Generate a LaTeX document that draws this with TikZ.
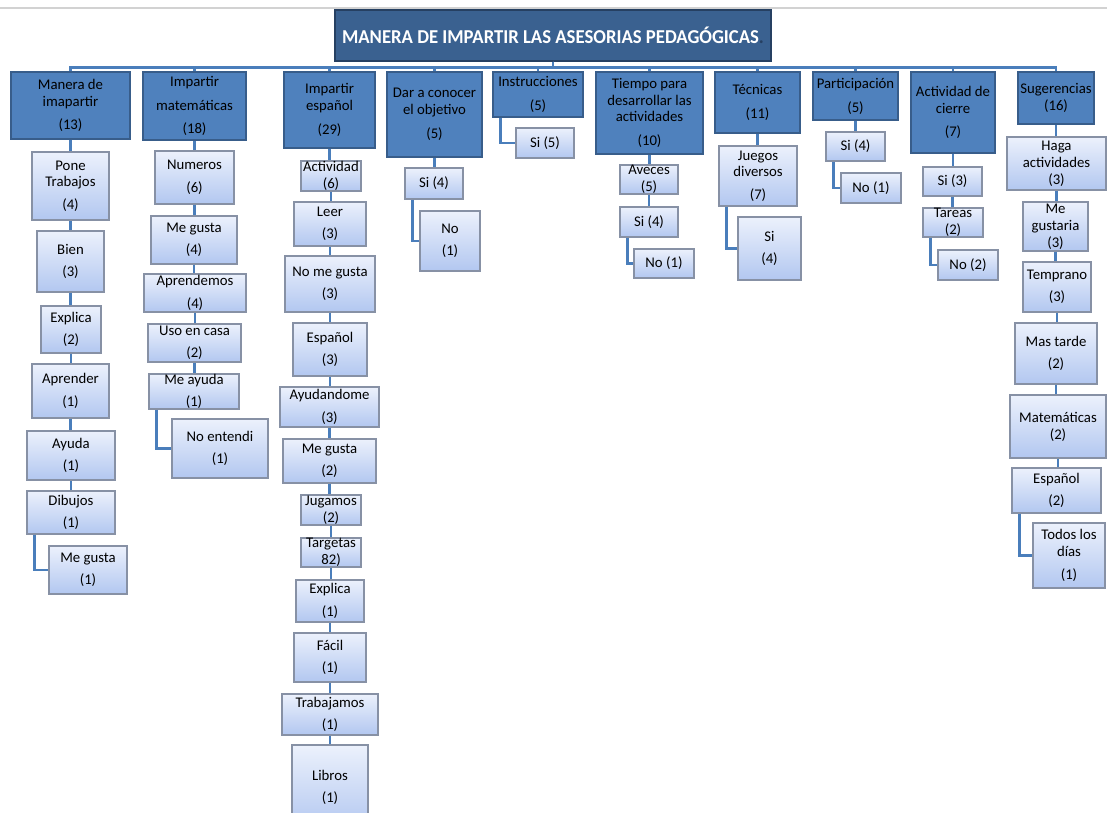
\documentclass[tikz,border=0pt]{standalone}
\usepackage{fontspec}
\setmainfont{Carlito}
\newfontfamily\titulofont[FakeStretch=0.95]{Carlito}
\usetikzlibrary{shadows}
\definecolor{linea}{RGB}{74,126,187}
\definecolor{fondoRaiz}{RGB}{58,97,144}
\definecolor{bordeRaiz}{RGB}{38,64,98}
\definecolor{fondoTema}{RGB}{79,129,189}
\definecolor{bordeTema}{RGB}{56,93,138}
\definecolor{hojaArriba}{RGB}{236,241,252}
\definecolor{hojaAbajo}{RGB}{178,199,240}
\definecolor{bordeHoja}{RGB}{135,145,165}
\begin{document}
\begin{tikzpicture}[x=0.025cm, y=-0.025cm,
    raiz/.style={draw=bordeRaiz, fill=fondoRaiz, line width=1pt, text=white,
      font=\titulofont\fontsize{14}{16}\selectfont\bfseries, inner sep=0pt},
    tema/.style={draw=bordeTema, fill=fondoTema, line width=0.9pt, align=center,
      font=\fontsize{10.5}{12}\selectfont, inner sep=0pt,
      drop shadow={shadow xshift=0.8pt, shadow yshift=-0.8pt, opacity=0.25}},
    hoja/.style={draw=bordeHoja, top color=hojaArriba, bottom color=hojaAbajo,
      line width=0.8pt, align=center, font=\fontsize{10.5}{12}\selectfont, inner sep=0pt,
      drop shadow={shadow xshift=0.8pt, shadow yshift=-0.8pt, opacity=0.25}},
    enlace/.style={draw=linea, line width=2.1pt}]%{{{
\clip  (0,0) rectangle (1107,813);
%
% Borde de la hoja
\draw [gray!35, line width=1.2pt] (0,8) to (1107,8);
%
% Titulo
\node [raiz, minimum width={436*0.025cm}, minimum height={51*0.025cm}] (raiz) at (553,35.5)
      {MANERA DE IMPARTIR LAS ASESORIAS PEDAGÓGICAS\textcolor{bordeRaiz}{.}};
%
% Temas
\foreach \n/\xa/\ya/\xb/\yb/\t in {
    t1/11/72/130/139/Manera de\\imapartir\\[5pt](13),
    t2/143/72/246/140/Impartir\\[5pt]matemáticas\\[5pt](18),
    t3/284/72/375/148/Impartir\\español\\[5pt](29),
    t4/387/72/482/157/Dar a conocer\\el objetivo\\[5pt](5),
    t5/493/72/583/117/Instrucciones\\[5pt](5),
    t6/596/72/703/154/Tiempo para\\desarrollar las\\actividades\\[5pt](10),
    t7/715/72/800/133/Técnicas\\[5pt](11),
    t8/813/72/898/120/Participación\\[5pt](5),
    t9/911/72/995/153/Actividad de\\cierre\\[5pt](7),
    t10/1018/72/1094/124/Sugerencias\\(16)}
  \node [tema, minimum width={(\xb-\xa)*0.025cm}, minimum height={(\yb-\ya)*0.025cm}]
        (\n) at ({(\xa+\xb)/2},{(\ya+\yb)/2}) {\t};
%
% Respuestas
\foreach \n/\xa/\ya/\xb/\yb/\t in {
    a1/32/152/109/220/Pone\\Trabajos\\[4pt](4),
    a2/37/231/104/292/Bien\\[4pt](3),
    a3/41/306/101/353/Explica\\[4pt](2),
    a4/32/364/109/418/Aprender\\[4pt](1),
    a5/27/431/115/480/Ayuda\\[4pt](1),
    a6/27/491/115/534/Dibujos\\[4pt](1),
    a7/49/546/127/594/Me gusta\\[4pt](1),
    b1/155/151/234/204/Numeros\\[4pt](6),
    b2/151/216/237/264/Me gusta\\[4pt](4),
    b3/144/274/246/312/Aprendemos\\[4pt](4),
    b4/148/324/241/362/Uso en casa\\[4pt](2),
    b5/149/374/239/409/Me ayuda\\[4pt](1),
    b6/172/419/268/478/No entendi\\[4pt](1),
    c1/301/161/361/191/Actividad\\(6),
    c2/294/202/366/246/Leer\\[4pt](3),
    c3/285/256/375/312/No me gusta\\[4pt](3),
    c4/293/323/367/376/Español\\[4pt](3),
    c5/280/387/379/427/Ayudandome\\[4pt](3),
    c6/283/439/376/483/Me gusta\\[4pt](2),
    c7/301/495/361/525/Jugamos\\(2),
    c8/301/538/361/567/Targetas\\82),
    c9/296/580/364/622/Explica\\[4pt](1),
    c10/294/633/366/682/Fácil\\[4pt](1),
    c11/282/694/378/735/Trabajamos\\[4pt](1),
    c12/292/745/368/830/Libros\\[4pt](1),
    d1/405/168/463/199/Si (4),
    d2/420/211/480/271/No\\[4pt](1),
    e1/516/128/574/158/Si (5),
    f1/620/165/678/194/Aveces\\(5),
    f2/620/207/678/237/Si (4),
    f3/634/249/694/278/No (1),
    g1/719/146/797/206/Juegos\\diversos\\[4pt](7),
    g2/738/217/801/280/Si\\[4pt](4),
    h1/826/132/885/161/Si (4),
    h2/841/173/901/203/No (1),
    i1/923/167/982/196/Si (3),
    i2/923/208/983/237/Tareas\\(2),
    i3/938/250/998/280/No (2),
    j1/1007/137/1106/190/Haga\\actividades\\(3),
    j2/1023/202/1088/251/Me\\gustaria\\(3),
    j3/1023/262/1091/312/Temprano\\[4pt](3),
    j4/1015/323/1097/384/Mas tarde\\[4pt](2),
    j5/1010/395/1106/458/Matemáticas\\(2),
    j6/1012/468/1101/513/Español\\[4pt](2),
    j7/1033/523/1105/588/Todos los\\días\\[4pt](1)}
  \node [hoja, minimum width={(\xb-\xa)*0.025cm}, minimum height={(\yb-\ya)*0.025cm}]
        (\n) at ({(\xa+\xb)/2},{(\ya+\yb)/2}) {\t};
%
% Ramas del titulo
\foreach \i in {1,...,10} \draw [enlace] (raiz.south) -- ++(0,6) -| (t\i.north);
%
% Cadenas
\foreach \p/\h in {t1/a1,a1/a2,a2/a3,a3/a4,a4/a5,a5/a6,
                   t2/b1,b1/b2,b2/b3,b3/b4,b4/b5,
                   t3/c1,c1/c2,c2/c3,c3/c4,c4/c5,c5/c6,c6/c7,c7/c8,c8/c9,c9/c10,c10/c11,c11/c12,
                   t4/d1,t6/f1,f1/f2,t7/g1,t8/h1,t9/i1,i1/i2,
                   t10/j1,j1/j2,j2/j3,j3/j4,j4/j5,j5/j6}
  \draw [enlace] (\p.south) -- (\p.south |- \h.north);
%
% Codos
\foreach \p/\h in {a6/a7,b5/b6,d1/d2,t5/e1,f2/f3,g1/g2,h1/h2,i2/i3,j6/j7}
  \draw [enlace] ([xshift=2mm]\p.south west) |- (\h.west);
%
\end{tikzpicture}
\end{document}
